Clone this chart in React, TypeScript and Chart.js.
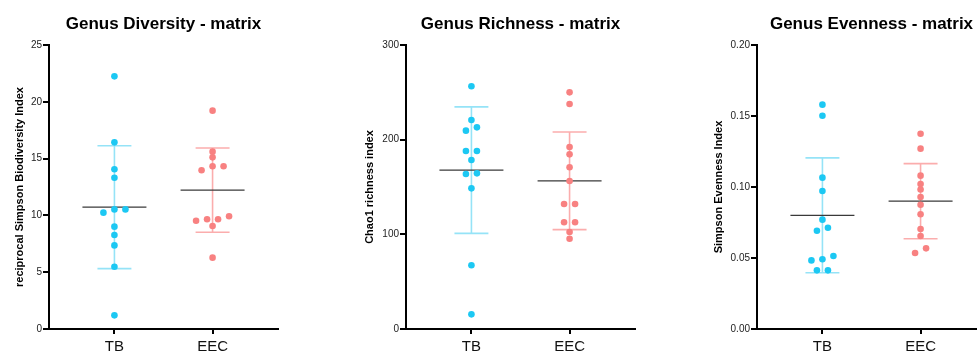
import React, { useEffect, useRef } from "react";
import { Chart, registerables } from "chart.js";

Chart.register(...registerables);

// ---------------- data ----------------
const groups = ["TB", "EEC"];

const diversityTB = [22.24, 16.43, 14.06, 13.32, 10.53, 10.53, 10.24, 9.01, 8.27, 7.36, 5.48, 1.2];
const diversityEEC = [19.22, 15.61, 15.11, 14.32, 14.32, 13.97, 9.92, 9.66, 9.66, 9.53, 9.07, 6.28];

const richnessTB = [256.4, 220.8, 213, 209.5, 188, 188, 178.5, 164.4, 163.7, 148.6, 67.3, 15.5];
const richnessEEC = [250, 237.7, 192.2, 184.5, 170.8, 156.3, 132, 132, 112.7, 112.7, 102.5, 95.4];

const evennessTB = [0.158, 0.1502, 0.1066, 0.0972, 0.077, 0.0713, 0.0692, 0.0514, 0.0491, 0.0483, 0.0413, 0.0413];
const evennessEEC = [0.1375, 0.127, 0.108, 0.1021, 0.0982, 0.093, 0.0875, 0.0808, 0.0704, 0.0655, 0.0568, 0.0535];

const diversityTicks = { max: 25, step: 5, decimals: 0 };
const richnessTicks = { max: 300, step: 100, decimals: 0 };
const evennessTicks = { max: 0.2, step: 0.05, decimals: 2 };

// ---------------- styles ----------------
const FONT = "'Liberation Sans', Arial, Helvetica, sans-serif";
const TB_COLOR = "#1cc8f3";
const TB_BAR = "#95e3f7";
const EEC_COLOR = "#f88181";
const EEC_BAR = "#fbadad";
const MEAN_COLOR = "#3a3a3a";

const MEAN_HALF = 0.326; // in category units
const CAP_HALF = 0.173;
const SWARM_STEP = 11; // px
const ROW_GAP = 5.15; // px

function mean(a: number[]) {
  return a.reduce((s, v) => s + v, 0) / a.length;
}
function sd(a: number[]) {
  const m = mean(a);
  return Math.sqrt(a.reduce((s, v) => s + (v - m) * (v - m), 0) / (a.length - 1));
}

const swarmPlugin = {
  id: "swarm",
  afterDatasetsUpdate(chart: any) {
    chart.data.datasets.forEach((ds: any, i: number) => {
      if (!ds.swarm) return;
      const meta = chart.getDatasetMeta(i);
      const sorted = meta.data.slice().sort((a: any, b: any) => a.y - b.y);
      const rows: any[][] = [];
      let cur: any[] | null = null;
      for (const el of sorted) {
        if (cur && el.y - cur[0].y < ROW_GAP) cur.push(el);
        else {
          cur = [el];
          rows.push(cur);
        }
      }
      for (const row of rows) {
        row.sort((a: any, b: any) => b.y - a.y);
        const n = row.length;
        row.forEach((el: any, k: number) => {
          el.x = el.x + (k - (n - 1) / 2) * SWARM_STEP;
        });
      }
    });
  },
};

function pointsDs(idx: number, values: number[], color: string) {
  return {
    type: "scatter",
    label: groups[idx],
    data: values.map((v) => ({ x: idx, y: v })),
    swarm: true,
    backgroundColor: color,
    borderColor: color,
    borderWidth: 0,
    pointRadius: 3.3,
    order: 0,
  };
}

function meanDs(idx: number, values: number[]) {
  const m = mean(values);
  return {
    type: "line",
    data: [
      { x: idx - MEAN_HALF, y: m },
      { x: idx + MEAN_HALF, y: m },
    ],
    borderColor: MEAN_COLOR,
    borderWidth: 1.2,
    pointRadius: 0,
    showLine: true,
    fill: false,
    order: 1,
  };
}

function errDs(idx: number, values: number[], color: string) {
  const m = mean(values);
  const s = sd(values);
  return {
    type: "line",
    data: [
      { x: idx - CAP_HALF, y: m + s },
      { x: idx + CAP_HALF, y: m + s },
      { x: idx, y: null },
      { x: idx, y: m + s },
      { x: idx, y: m - s },
      { x: idx, y: null },
      { x: idx - CAP_HALF, y: m - s },
      { x: idx + CAP_HALF, y: m - s },
    ],
    borderColor: color,
    borderWidth: 1.6,
    pointRadius: 0,
    showLine: true,
    spanGaps: false,
    fill: false,
    order: 2,
  };
}

type PanelProps = {
  title: string;
  yTitle: string;
  tb: number[];
  eec: number[];
  ticks: { max: number; step: number; decimals: number };
  yTitlePad: number;
};

function Panel({ title, yTitle, tb, eec, ticks, yTitlePad }: PanelProps) {
  const ref = useRef<HTMLCanvasElement | null>(null);
  useEffect(() => {
    if (!ref.current) return;
    const chart = new Chart(ref.current, {
      type: "scatter",
      data: {
        datasets: [
          pointsDs(0, tb, TB_COLOR),
          pointsDs(1, eec, EEC_COLOR),
          meanDs(0, tb),
          meanDs(1, eec),
          errDs(0, tb, TB_BAR),
          errDs(1, eec, EEC_BAR),
        ] as any,
      },
      options: {
        responsive: false,
        animation: false,
        devicePixelRatio: 1,
        events: [],
        layout: { padding: { left: 0, right: 22, top: 0, bottom: 0 } },
        plugins: {
          legend: { display: false },
          tooltip: { enabled: false },
          title: {
            display: true,
            text: title,
            fullSize: false,
            color: "#000",
            font: { family: FONT, size: 17, weight: "bold" },
            padding: { top: 14, bottom: 10.6 },
          },
        },
        scales: {
          x: {
            type: "linear",
            min: -0.6667,
            max: 1.6667,
            afterBuildTicks: (scale: any) => {
              scale.ticks = groups.map((_, i) => ({ value: i }));
            },
            afterFit: (scale: any) => {
              scale.height = 25;
            },
            ticks: {
              callback: (v: any) => groups[Math.round(Number(v))] ?? "",
              color: "#111",
              font: { family: FONT, size: 15 },
              padding: 4,
              maxRotation: 0,
              autoSkip: false,
            },
            grid: {
              drawOnChartArea: false,
              drawTicks: true,
              tickLength: 5,
              color: "#000",
              lineWidth: 2,
            },
            border: { color: "#000", width: 2 },
          },
          y: {
            type: "linear",
            min: 0,
            max: ticks.max,
            afterFit: (scale: any) => {
              scale.width = 49;
            },
            ticks: {
              stepSize: ticks.step,
              callback: (v: any) => Number(v).toFixed(ticks.decimals),
              color: "#222",
              font: { family: FONT, size: 10 },
              padding: 1,
            },
            grid: {
              drawOnChartArea: false,
              drawTicks: true,
              tickLength: 6,
              color: "#000",
              lineWidth: 2,
            },
            border: { color: "#000", width: 2 },
            title: {
              display: true,
              text: yTitle,
              color: "#000",
              font: { family: FONT, size: 11, weight: "bold" },
              padding: { top: yTitlePad, bottom: 0 },
            },
          },
        },
      } as any,
      plugins: [swarmPlugin],
    });
    return () => chart.destroy();
  }, [title, yTitle, tb, eec, ticks, yTitlePad]);
  return <canvas ref={ref} width={300} height={354} style={{ display: "block" }} />;
}

export default function App() {
  return (
    <div
      style={{
        position: "fixed",
        left: 0,
        top: 0,
        width: 977,
        height: 354,
        overflow: "hidden",
        background: "#fff",
      }}
    >
      <div style={{ position: "absolute", left: 0, top: 0 }}>
        <Panel
          title="Genus Diversity - matrix"
          yTitle="reciprocal Simpson Biodiversity Index"
          tb={diversityTB}
          eec={diversityEEC}
          ticks={diversityTicks}
          yTitlePad={13.4}
        />
      </div>
      <div style={{ position: "absolute", left: 357, top: 0 }}>
        <Panel
          title="Genus Richness - matrix"
          yTitle="Chao1 richness index"
          tb={richnessTB}
          eec={richnessEEC}
          ticks={richnessTicks}
          yTitlePad={5.9}
        />
      </div>
      <div style={{ position: "absolute", left: 708, top: 0 }}>
        <Panel
          title="Genus Evenness - matrix"
          yTitle="Simpson Evenness Index"
          tb={evennessTB}
          eec={evennessEEC}
          ticks={evennessTicks}
          yTitlePad={3.9}
        />
      </div>
    </div>
  );
}
